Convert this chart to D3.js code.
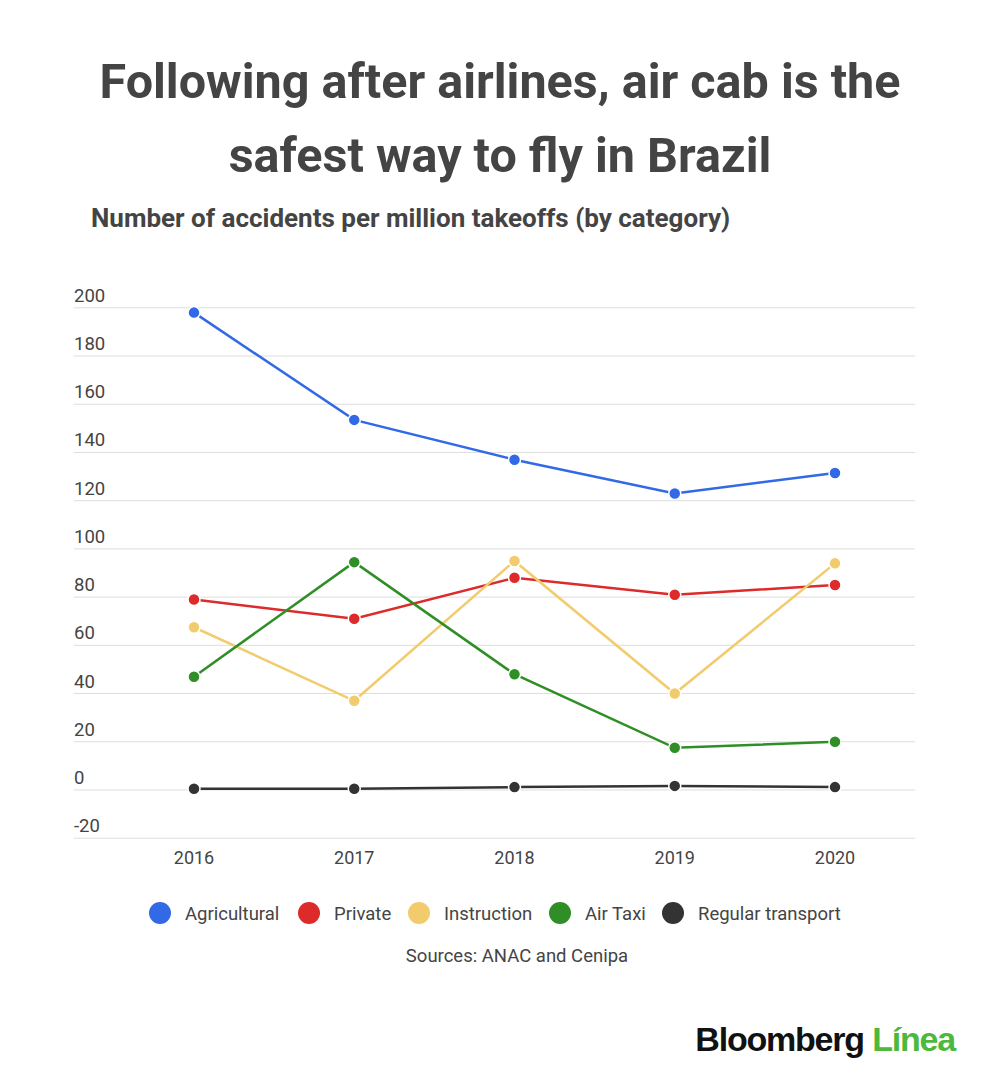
<!DOCTYPE html>
<html><head><meta charset="utf-8">
<script src="https://cdn.jsdelivr.net/npm/d3@7"></script>
<style>body{margin:0;background:#fff}</style></head>
<body><svg id="c" width="1000" height="1082"></svg>
<script>
const years=["2016","2017","2018","2019","2020"];
const agricultural=[198,153.5,137,123,131.5];
const privateAv=[79,71,88,81,85];
const instruction=[67.5,37,95,40,94];
const airTaxi=[47,94.5,48,17.5,20];
const regular=[0.5,0.5,1.2,1.7,1.2];
const yTicks=[-20,0,20,40,60,80,100,120,140,160,180,200];
const series=[
 {name:"Agricultural",values:agricultural,color:"#3269e6"},
 {name:"Private",values:privateAv,color:"#dd2a2a"},
 {name:"Instruction",values:instruction,color:"#f2cb6c"},
 {name:"Air Taxi",values:airTaxi,color:"#2f8f26"},
 {name:"Regular transport",values:regular,color:"#333333"}];
const svg=d3.select("#c");
const F="Roboto, 'Open Sans', sans-serif";
svg.append("text").attr("x",500).attr("y",98).attr("text-anchor","middle").attr("font-family",F).attr("font-weight",700).attr("font-size",48.5).attr("fill","#444").text("Following after airlines, air cab is the");
svg.append("text").attr("x",500).attr("y",172).attr("text-anchor","middle").attr("font-family",F).attr("font-weight",700).attr("font-size",48.5).attr("fill","#444").text("safest way to fly in Brazil");
svg.append("text").attr("x",91).attr("y",227).attr("font-family",F).attr("font-weight",700).attr("font-size",26).attr("fill","#444").text("Number of accidents per million takeoffs (by category)");
const x=d3.scalePoint().domain(years).range([194,835]);
const y=d3.scaleLinear().domain([-20,200]).range([838.2,307.8]);
const g=svg.append("g");
yTicks.forEach(t=>{
 g.append("line").attr("x1",74).attr("x2",915).attr("y1",y(t)).attr("y2",y(t)).attr("stroke","#ddd").attr("stroke-width",1);
 g.append("text").attr("x",74).attr("y",y(t)-6).attr("font-family",F).attr("font-size",18.5).attr("fill","#444").text(t);
});
years.forEach(yr=>g.append("text").attr("x",x(yr)).attr("y",864).attr("text-anchor","middle").attr("font-family",F).attr("font-size",18).attr("fill","#444").text(yr));
const line=d3.line().x((d,i)=>x(years[i])).y(d=>y(d));
series.forEach(s=>{
 g.append("path").attr("d",line(s.values)).attr("fill","none").attr("stroke",s.color).attr("stroke-width",2.5);
 g.selectAll(null).data(s.values).enter().append("circle").attr("cx",(d,i)=>x(years[i])).attr("cy",d=>y(d)).attr("r",6).attr("fill",s.color).attr("stroke","#fff").attr("stroke-width",1.5);
});
const lx=[160,309,419,560,673];
series.forEach((s,i)=>{
 svg.append("circle").attr("cx",lx[i]).attr("cy",913).attr("r",11).attr("fill",s.color);
 svg.append("text").attr("x",lx[i]+25).attr("y",920).attr("font-family",F).attr("font-size",18.5).attr("fill","#444").text(s.name);
});
svg.append("text").attr("x",517).attr("y",962).attr("text-anchor","middle").attr("font-family",F).attr("font-size",18.5).attr("fill","#444").text("Sources: ANAC and Cenipa");
const lg=svg.append("text").attr("x",955).attr("y",1051).attr("text-anchor","end").attr("font-family","'Liberation Sans', Arial, sans-serif").attr("font-weight",700).attr("font-size",34).attr("letter-spacing",-1.2);
lg.append("tspan").attr("fill","#111").text("Bloomberg ");
lg.append("tspan").attr("fill","#4cb83c").text("Línea");
</script></body></html>
